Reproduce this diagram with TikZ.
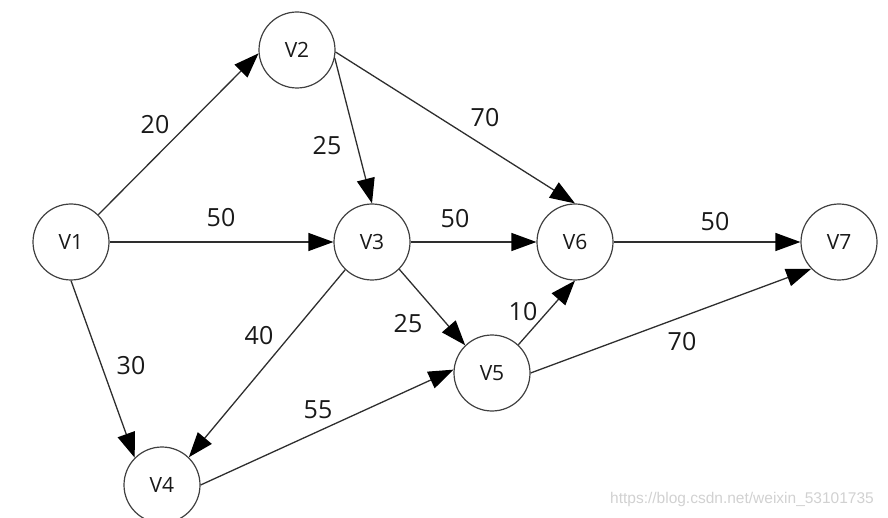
\documentclass[tikz,border=0pt]{standalone}
\usepackage{fontspec}
\setmainfont{Open Sans}
\newfontfamily\wmfont{Liberation Sans}
\usetikzlibrary{arrows.meta}
\begin{document}
\begin{tikzpicture}[x=1pt,y=-1pt,
  vert/.style={circle,draw=black!75,line width=1.2pt,minimum size=76pt,inner sep=0pt,font=\fontsize{21}{21}\selectfont,text=black!90},
  edge/.style={draw=black!82,line width=1.3pt,-{Triangle[length=25pt,width=18pt,color=black]}},
  wt/.style={inner sep=0pt,font=\fontsize{25}{25}\selectfont,text=black!90},
  wm/.style={inner sep=0pt,font=\wmfont\fontsize{15.5}{15.5}\selectfont,text=black!18}]
\useasboundingbox (0,0) rectangle (888,518);
\node[vert] (v1) at (71,242) {V1};
\node[vert] (v2) at (297,50) {V2};
\node[vert] (v3) at (372,242) {V3};
\node[vert] (v4) at (162,485) {V4};
\node[vert] (v5) at (492,373) {V5};
\node[vert] (v6) at (575,242) {V6};
\node[vert] (v7) at (839,242) {V7};

\draw[edge] (v1.45) -- (v2.185);
\draw[edge] (v1.east) -- (v3.west);
\draw[edge] (v1.south) -- (v4.135);
\draw[edge] (v2.-12) -- (v3.north);
\draw[edge] (v2.-3) -- (v6.north);
\draw[edge] (v3.226) -- (v4.46);
\draw[edge] (v3.east) -- (v6.west);
\draw[edge] (v3.-45) -- (v5.134);
\draw[edge] (v4.east) -- (v5.175);
\draw[edge] (v5.47) -- (v6.south);
\draw[edge] (v5.east) -- (v7.224);
\draw[edge] (v6.east) -- (v7.west);

\node[wt] (w12) at (155,125) {20};
\node[wt] (w13) at (221,218) {50};
\node[wt] (w14) at (131,366) {30};
\node[wt] (w23) at (327,146) {25};
\node[wt] (w26) at (485,118) {70};
\node[wt] (w34) at (259,336) {40};
\node[wt] (w36) at (455,219) {50};
\node[wt] (w35) at (408,324) {25};
\node[wt] (w45) at (318,410) {55};
\node[wt] (w56) at (523,312) {10};
\node[wt] (w57) at (682,342) {70};
\node[wt] (w67) at (715,222) {50};

\node[wm] (mark) at (742,499) {https://blog.csdn.net/weixin\_53101735};
\end{tikzpicture}
\end{document}
